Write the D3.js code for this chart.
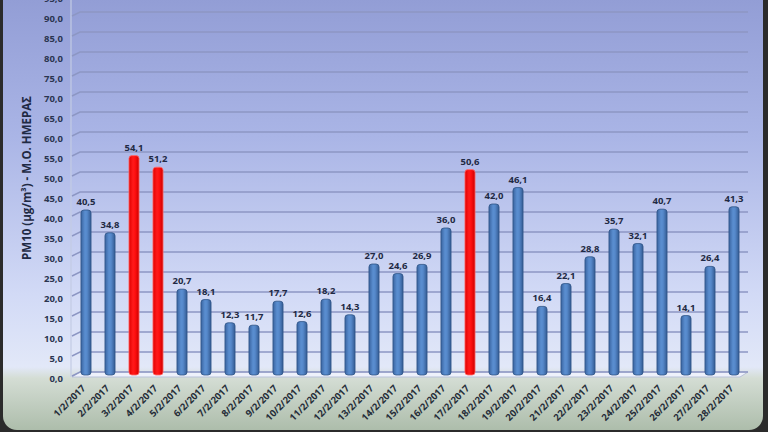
<!DOCTYPE html>
<html>
<head>
<meta charset="utf-8">
<script src="https://cdn.jsdelivr.net/npm/d3@7/dist/d3.min.js"></script>
<style>
  body { margin: 0; background: #2b2b2b; }
  svg { display: block; font-family: "Open Sans", "DejaVu Sans", sans-serif; }
</style>
</head>
<body>
<svg id="chart" width="768" height="432"></svg>
<script>
// daily PM10 values, February 2017
const days = d3.range(1, 29).map((d) => `${d}/2/2017`);
const pm10 = [40.5, 34.8, 54.1, 51.2, 20.7, 18.1, 12.3, 11.7, 17.7, 12.6,
  18.2, 14.3, 27.0, 24.6, 26.9, 36.0, 50.6, 42.0, 46.1, 16.4,
  22.1, 28.8, 35.7, 32.1, 40.7, 14.1, 26.4, 41.3];
const yTicks = d3.range(0, 96, 5);
const limit = 50;

const svg = d3.select('#chart');
const fmt = (v) => v.toFixed(1).replace('.', ',');

const x = d3.scaleBand()
  .domain(days)
  .range([74, 746])
  .paddingInner(0.58)
  .paddingOuter(0.29);

const y = d3.scaleLinear()
  .domain([0, 95])
  .range([372, -8]);

const defs = svg.append('defs');

// panel background
const bg = defs.append('linearGradient')
  .attr('id', 'bg').attr('x1', 0).attr('y1', 0).attr('x2', 0).attr('y2', 1);
[[0, '#8f9ad3'], [0.35, '#aab5e6'], [0.7, '#d2daf6'], [0.86, '#e2e8f8'],
  [0.885, '#d4ddd4'], [1, '#adbdab']].forEach(([o, c]) => {
  bg.append('stop').attr('offset', o).attr('stop-color', c);
});

// cylinder-like shading for bars
const shade = (id, stops) => {
  const g = defs.append('linearGradient').attr('id', id)
    .attr('x1', 0).attr('y1', 0).attr('x2', 1).attr('y2', 0);
  stops.forEach(([o, c]) => g.append('stop').attr('offset', o).attr('stop-color', c));
};
shade('blueBar', [[0, '#3a64a0'], [0.4, '#5a8ed0'], [0.6, '#5689cb'], [1, '#345b93']]);
shade('redBar', [[0, '#e00000'], [0.4, '#ff1a1a'], [0.6, '#ff1010'], [1, '#cc0000']]);

svg.append('rect')
  .attr('x', 3).attr('y', -20)
  .attr('width', 760).attr('height', 450)
  .attr('rx', 14)
  .attr('fill', 'url(#bg)');

// left wall edge and floor
svg.append('line')
  .attr('x1', 71).attr('x2', 71)
  .attr('y1', 0).attr('y2', y(0) + 5)
  .attr('stroke', '#c3cbe4').attr('stroke-width', 1.2);

svg.append('path')
  .attr('d', `M72,${y(0) + 5} L80,${y(0)} L748,${y(0)} L740,${y(0) + 5} Z`)
  .attr('fill', '#eef1fb')
  .attr('stroke', '#b9c1d8').attr('stroke-width', 1);

// gridlines on the back wall
const grid = svg.append('g');
grid.selectAll('path')
  .data(yTicks)
  .enter()
  .append('path')
  .attr('d', (d) => `M72,${y(d) + 4} L80,${y(d)} L748,${y(d)}`)
  .attr('fill', 'none')
  .attr('stroke', '#8d97c4')
  .attr('stroke-width', 1.4);

// y axis labels
svg.append('g')
  .selectAll('text')
  .data(yTicks)
  .enter()
  .append('text')
  .attr('x', 63)
  .attr('y', (d) => y(d) + 9.5)
  .attr('text-anchor', 'end')
  .attr('font-size', '9.5px')
  .attr('font-weight', 'bold')
  .attr('fill', '#2a3550')
  .text((d) => fmt(d));

svg.append('text')
  .attr('transform', 'translate(31, 178) rotate(-90)')
  .attr('text-anchor', 'middle')
  .attr('font-size', '11.5px')
  .attr('font-weight', 'bold')
  .attr('fill', '#1f2a44')
  .text('PM10 (μg/m³) - Μ.Ο. ΗΜΕΡΑΣ');

// bars
const bars = svg.append('g');
bars.selectAll('rect')
  .data(pm10)
  .enter()
  .append('rect')
  .attr('x', (d, i) => x(days[i]))
  .attr('y', (d) => y(d))
  .attr('width', x.bandwidth())
  .attr('height', (d) => y(0) + 3 - y(d))
  .attr('rx', 3)
  .attr('fill', (d) => (d > limit ? 'url(#redBar)' : 'url(#blueBar)'))
  .attr('stroke', (d) => (d > limit ? '#ff6a6a' : '#2f5487'))
  .attr('stroke-width', 0.8);

// value labels
svg.append('g')
  .selectAll('text')
  .data(pm10)
  .enter()
  .append('text')
  .attr('x', (d, i) => x(days[i]) + x.bandwidth() / 2)
  .attr('y', (d) => y(d) - 5)
  .attr('text-anchor', 'middle')
  .attr('font-size', '9.5px')
  .attr('font-weight', 'bold')
  .attr('fill', '#1f2a44')
  .text((d) => fmt(d));

// x axis labels
svg.append('g')
  .selectAll('text')
  .data(days)
  .enter()
  .append('text')
  .attr('transform', (d) => `translate(${x(d) + x.bandwidth() / 2}, 389) rotate(-45)`)
  .attr('text-anchor', 'end')
  .attr('font-size', '9.5px')
  .attr('font-weight', 'bold')
  .attr('fill', '#252d38')
  .text((d) => d);
</script>
</body>
</html>
